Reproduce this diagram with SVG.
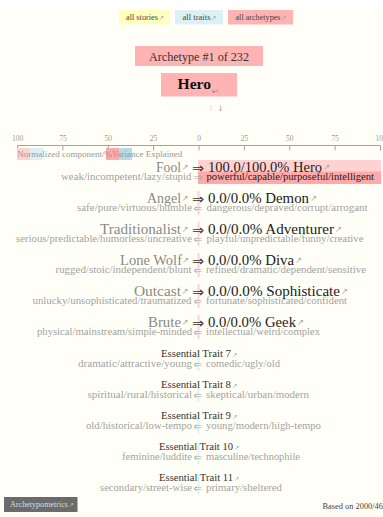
<svg xmlns="http://www.w3.org/2000/svg" width="383" height="517" viewBox="0 0 383 517">
<style>
text{font-family:"Liberation Serif","Times New Roman",serif;}
.sym{font-family:"DejaVu Sans",sans-serif;}
.btn{font-size:8.5px;fill:#444;}
.big{font-size:15.5px;}
.l{fill:#8a8a86;}
.r{fill:#222;}
.sub{font-size:9.5px;fill:#a2a29e;}
.tt{font-size:9.5px;fill:#333;}
.tick{font-size:7.5px;fill:#999;text-anchor:middle;}
.ar{font-size:8.5px;fill:#aaa;}
.ars{font-size:6.5px;fill:#999;}
.dbl{font-size:14.5px;fill:#333;}
.dbls{font-size:10.5px;fill:#aaa;}
.axis{stroke:#a3a3a0;stroke-width:1;fill:none;}
</style>
<rect x="0" y="0" width="383" height="517" fill="#fff"/>
<rect x="0" y="7" width="383" height="510" fill="#fffff8"/>

<g id="nav-stories"><rect x="119" y="10" width="51" height="14.5" fill="#ffffbf"/><text class="btn" x="126" y="20" textLength="32" lengthAdjust="spacingAndGlyphs">all stories</text><text class="sym ars" x="158.500" y="19.500">↗</text></g>
<g id="nav-traits"><rect x="175" y="10" width="48" height="14.5" fill="#dcf1f5"/><text class="btn" x="182.500" y="20" textLength="28" lengthAdjust="spacingAndGlyphs">all traits</text><text class="sym ars" x="211" y="19.500">↗</text></g>
<g id="nav-archetypes"><rect x="228" y="10" width="65" height="14.5" fill="#ffb3b3"/><text class="btn" x="235.500" y="20" textLength="45" lengthAdjust="spacingAndGlyphs">all archetypes</text><text class="sym ars" x="281" y="19.500">↗</text></g>

<g id="heading"><rect x="135" y="46" width="128" height="20" fill="#ffb3b3"/><text x="149" y="60.500" font-size="12" fill="#333" textLength="100" lengthAdjust="spacingAndGlyphs">Archetype #1 of 232</text></g>
<g id="title"><rect x="161" y="73" width="76" height="23.500" fill="#ffb3b3"/><text x="177.500" y="89" font-size="15.500" font-weight="bold" fill="#111" textLength="33.500" lengthAdjust="spacingAndGlyphs">Hero</text><text class="sym" x="211.500" y="93.500" font-size="8.500" fill="#b08a8a">↩</text></g>
<g id="pager"><text x="208.500" y="110.500" font-size="10" fill="#ccc">↑</text><text x="218" y="110.500" font-size="10" fill="#777">↓</text></g>

<g id="axis">
<path class="axis" d="M17.500 145.500H380.500M17.500 145.500v5M62.900 145.500v5M108.300 145.500v5M153.600 145.500v5M199 145.500v5M244.400 145.500v5M289.800 145.500v5M335.100 145.500v5M380.500 145.500v5"/>
<text class="tick" x="17.500" y="141">100</text><text class="tick" x="62.900" y="141">75</text><text class="tick" x="108.300" y="141">50</text><text class="tick" x="153.600" y="141">25</text><text class="tick" x="199" y="141">0</text><text class="tick" x="244.400" y="141">25</text><text class="tick" x="289.800" y="141">50</text><text class="tick" x="335.100" y="141">75</text><text class="tick" x="381" y="141">100</text>
</g>
<g id="legend">
<rect x="17" y="148" width="13" height="12" fill="#ffd2d2"/><rect x="30" y="148" width="13.500" height="12" fill="#dcf1f5"/><rect x="106" y="148" width="13" height="12" fill="#ffa9a9"/><rect x="119" y="148" width="13" height="12" fill="#b5dbe3"/>
<text x="17.300" y="157" font-size="8.500px" fill="#999" textLength="165" lengthAdjust="spacingAndGlyphs">Normalized component/%Variance Explained</text>
</g>

<g id="bars">
<rect x="198" y="160" width="183" height="24" fill="#ffd2d2"/><rect x="198" y="171.500" width="183" height="12.500" fill="#ffa9a9"/>
<rect x="197.500" y="191" width="2" height="24" fill="#ffd2d2"/><rect x="197.500" y="222" width="2" height="24" fill="#ffd2d2"/><rect x="197.500" y="253" width="2" height="24" fill="#ffd2d2"/><rect x="197.500" y="284" width="2" height="24" fill="#ffd2d2"/><rect x="197.500" y="315" width="2" height="24" fill="#ffd2d2"/>
<rect x="197.500" y="350" width="2" height="21" fill="#dcf1f5"/><rect x="197.500" y="381" width="2" height="21" fill="#dcf1f5"/><rect x="197.500" y="412" width="2" height="21" fill="#dcf1f5"/><rect x="197.500" y="443" width="2" height="21" fill="#dcf1f5"/><rect x="197.500" y="474" width="2" height="21" fill="#dcf1f5"/>
</g>

<g id="row-hero">
<text class="big l" x="156" y="172" textLength="25" lengthAdjust="spacingAndGlyphs">Fool</text><text class="sym ar" x="181.500" y="170">↗</text>
<text class="sym dbl" x="192" y="173">⇒</text>
<text class="big r" x="208" y="172" textLength="114" lengthAdjust="spacingAndGlyphs">100.0/100.0% Hero</text><text class="sym ar" x="323" y="170">↗</text>
<text class="sub" x="61" y="180" textLength="130.500" lengthAdjust="spacingAndGlyphs">weak/incompetent/lazy/stupid</text><text class="sym dbls" x="193.500" y="181">⇒</text>
<text class="sub" style="fill:#222" x="206.500" y="180" textLength="167.500" lengthAdjust="spacingAndGlyphs">powerful/capable/purposeful/intelligent</text>
</g>
<g id="row-demon">
<text class="big l" x="147" y="203" textLength="34" lengthAdjust="spacingAndGlyphs">Angel</text><text class="sym ar" x="181.500" y="201">↗</text>
<text class="sym dbl" x="192" y="204">⇒</text>
<text class="big r" x="208" y="203" textLength="101" lengthAdjust="spacingAndGlyphs">0.0/0.0% Demon</text><text class="sym ar" x="310" y="201">↗</text>
<text class="sub" x="77" y="211" textLength="115" lengthAdjust="spacingAndGlyphs">safe/pure/virtuous/humble</text><text class="sym dbls" x="193.500" y="212">⇐</text>
<text class="sub" x="206.500" y="211" textLength="161" lengthAdjust="spacingAndGlyphs">dangerous/depraved/corrupt/arrogant</text>
</g>
<g id="row-adventurer">
<text class="big l" x="100" y="234" textLength="81" lengthAdjust="spacingAndGlyphs">Traditionalist</text><text class="sym ar" x="181.500" y="232">↗</text>
<text class="sym dbl" x="192" y="235">⇒</text>
<text class="big r" x="208" y="234" textLength="126" lengthAdjust="spacingAndGlyphs">0.0/0.0% Adventurer</text><text class="sym ar" x="335" y="232">↗</text>
<text class="sub" x="16" y="242" textLength="176" lengthAdjust="spacingAndGlyphs">serious/predictable/humorless/uncreative</text><text class="sym dbls" x="193.500" y="243">⇐</text>
<text class="sub" x="206.500" y="242" textLength="157" lengthAdjust="spacingAndGlyphs">playful/unpredictable/funny/creative</text>
</g>
<g id="row-diva">
<text class="big l" x="120" y="265" textLength="62" lengthAdjust="spacingAndGlyphs">Lone Wolf</text><text class="sym ar" x="182" y="263">↗</text>
<text class="sym dbl" x="192" y="266">⇒</text>
<text class="big r" x="208" y="265" textLength="86" lengthAdjust="spacingAndGlyphs">0.0/0.0% Diva</text><text class="sym ar" x="295" y="263">↗</text>
<text class="sub" x="55.500" y="273" textLength="136" lengthAdjust="spacingAndGlyphs">rugged/stoic/independent/blunt</text><text class="sym dbls" x="193.500" y="274">⇐</text>
<text class="sub" x="206" y="273" textLength="160" lengthAdjust="spacingAndGlyphs">refined/dramatic/dependent/sensitive</text>
</g>
<g id="row-sophisticate">
<text class="big l" x="134" y="296" textLength="47" lengthAdjust="spacingAndGlyphs">Outcast</text><text class="sym ar" x="181.500" y="294">↗</text>
<text class="sym dbl" x="192" y="297">⇒</text>
<text class="big r" x="208" y="296" textLength="132" lengthAdjust="spacingAndGlyphs">0.0/0.0% Sophisticate</text><text class="sym ar" x="341" y="294">↗</text>
<text class="sub" x="32.500" y="304" textLength="159" lengthAdjust="spacingAndGlyphs">unlucky/unsophisticated/traumatized</text><text class="sym dbls" x="193.500" y="305">⇐</text>
<text class="sub" x="206" y="304" textLength="141" lengthAdjust="spacingAndGlyphs">fortunate/sophisticated/confident</text>
</g>
<g id="row-geek">
<text class="big l" x="148" y="327" textLength="33" lengthAdjust="spacingAndGlyphs">Brute</text><text class="sym ar" x="181.500" y="325">↗</text>
<text class="sym dbl" x="192" y="328">⇒</text>
<text class="big r" x="208" y="327" textLength="88" lengthAdjust="spacingAndGlyphs">0.0/0.0% Geek</text><text class="sym ar" x="297" y="325">↗</text>
<text class="sub" x="37" y="335" textLength="155" lengthAdjust="spacingAndGlyphs">physical/mainstream/simple-minded</text><text class="sym dbls" x="193.500" y="336">⇐</text>
<text class="sub" x="206" y="335" textLength="114" lengthAdjust="spacingAndGlyphs">intellectual/weird/complex</text>
</g>
<g id="trait-7">
<text class="tt" x="161" y="357" textLength="70" lengthAdjust="spacingAndGlyphs">Essential Trait 7</text><text class="sym ars" x="232" y="356.500">↗</text>
<text class="sub" x="78" y="367" textLength="114" lengthAdjust="spacingAndGlyphs">dramatic/attractive/young</text><text class="sym dbls" x="193.500" y="368">⇐</text>
<text class="sub" x="206" y="367" textLength="74" lengthAdjust="spacingAndGlyphs">comedic/ugly/old</text>
</g>
<g id="trait-8">
<text class="tt" x="161" y="388" textLength="70" lengthAdjust="spacingAndGlyphs">Essential Trait 8</text><text class="sym ars" x="232" y="387.500">↗</text>
<text class="sub" x="87.500" y="398" textLength="104.500" lengthAdjust="spacingAndGlyphs">spiritual/rural/historical</text><text class="sym dbls" x="193.500" y="399">⇐</text>
<text class="sub" x="206" y="398" textLength="103" lengthAdjust="spacingAndGlyphs">skeptical/urban/modern</text>
</g>
<g id="trait-9">
<text class="tt" x="161" y="419" textLength="70" lengthAdjust="spacingAndGlyphs">Essential Trait 9</text><text class="sym ars" x="232" y="418.500">↗</text>
<text class="sub" x="86" y="429" textLength="106" lengthAdjust="spacingAndGlyphs">old/historical/low-tempo</text><text class="sym dbls" x="193.500" y="430">⇐</text>
<text class="sub" x="206" y="429" textLength="115" lengthAdjust="spacingAndGlyphs">young/modern/high-tempo</text>
</g>
<g id="trait-10">
<text class="tt" x="159" y="450" textLength="74" lengthAdjust="spacingAndGlyphs">Essential Trait 10</text><text class="sym ars" x="234" y="449.500">↗</text>
<text class="sub" x="122" y="460" textLength="70" lengthAdjust="spacingAndGlyphs">feminine/luddite</text><text class="sym dbls" x="193.500" y="461">⇐</text>
<text class="sub" x="206" y="460" textLength="94" lengthAdjust="spacingAndGlyphs">masculine/technophile</text>
</g>
<g id="trait-11">
<text class="tt" x="159" y="481" textLength="74" lengthAdjust="spacingAndGlyphs">Essential Trait 11</text><text class="sym ars" x="234" y="480.500">↗</text>
<text class="sub" x="100" y="491" textLength="92" lengthAdjust="spacingAndGlyphs">secondary/street-wise</text><text class="sym dbls" x="193.500" y="492">⇐</text>
<text class="sub" x="206" y="491" textLength="76" lengthAdjust="spacingAndGlyphs">primary/sheltered</text>
</g>

<g id="footer-link"><rect x="4" y="497" width="73.500" height="15" fill="#6b6b6b"/><text x="10" y="507" font-size="8.500px" fill="#ddd" textLength="58" lengthAdjust="spacingAndGlyphs">Archetypometrics</text><text class="sym ars" x="68.500" y="506.500" style="fill:#ccc">↗</text></g>
<g id="footer-note"><text x="322.500" y="509" font-size="8.500px" fill="#444" textLength="60.500" lengthAdjust="spacingAndGlyphs">Based on 2000/46</text></g>
</svg>
